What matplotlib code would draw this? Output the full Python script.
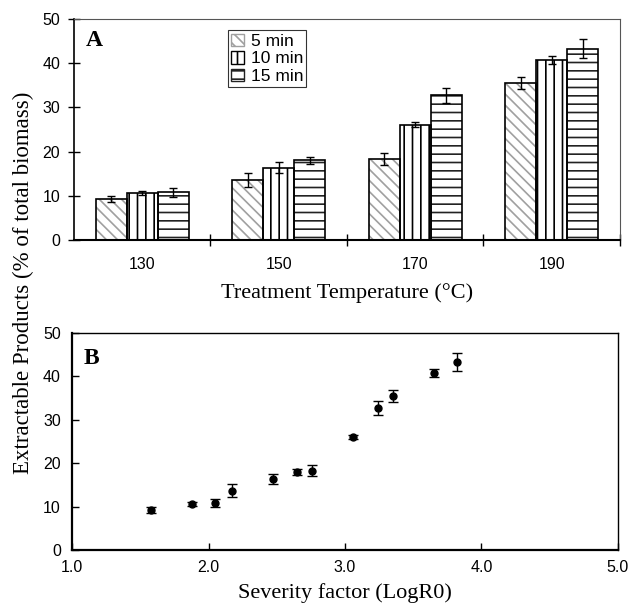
import numpy as np
import matplotlib
matplotlib.use("Agg")
import matplotlib.pyplot as plt

plt.rcParams['hatch.linewidth'] = 1.2

# panel A: extractable products per treatment temperature and time
temps = ["130", "150", "170", "190"]
times = ["5 min", "10 min", "15 min"]
vals = {
    "5 min": [9.2, 13.6, 18.3, 35.5],
    "10 min": [10.6, 16.4, 26.1, 40.8],
    "15 min": [10.8, 18.0, 32.7, 43.3],
}
errs = {
    "5 min": [0.7, 1.5, 1.3, 1.4],
    "10 min": [0.5, 1.2, 0.5, 0.9],
    "15 min": [1.0, 0.75, 1.6, 2.1],
}

# panel B: same data vs severity factor
severity = [1.58, 1.88, 2.05, 2.17, 2.47, 2.65, 2.76, 3.06, 3.24, 3.35, 3.65, 3.82]
products = [9.2, 10.6, 10.8, 13.6, 16.4, 18.0, 18.3, 26.1, 32.7, 35.5, 40.8, 43.3]
prod_err = [0.7, 0.5, 1.0, 1.5, 1.2, 0.75, 1.3, 0.5, 1.6, 1.4, 0.9, 2.1]

tick_font = "Liberation Sans"
serif = "Liberation Serif"

fig = plt.figure(figsize=(6.29, 6.06), dpi=100)
axA = fig.add_axes([0.1176, 0.604, 0.868, 0.3646])
axB = fig.add_axes([0.1145, 0.0924, 0.868, 0.3581])

# ---- panel A ----
x = np.arange(len(temps))
w = 0.227
hatches = {"5 min": "\\\\\\", "10 min": "||", "15 min": "--"}
hcolors = {"5 min": "#a0a0a0", "10 min": "black", "15 min": "#222222"}
handles = []
for i, t in enumerate(times):
    pos = x + (i - 1) * w
    axA.bar(pos, vals[t], w, color="white", edgecolor=hcolors[t],
            hatch=hatches[t], linewidth=0, zorder=2)
    axA.bar(pos, vals[t], w, fill=False, edgecolor="black", linewidth=1.2, zorder=3)
    axA.errorbar(pos, vals[t], yerr=errs[t], fmt="none", ecolor="black",
                 elinewidth=1, capsize=3, capthick=1, zorder=4)
    h = plt.Rectangle((0, 0), 1, 1, facecolor="white", edgecolor=hcolors[t],
                      hatch=hatches[t], linewidth=1)
    handles.append(h)

axA.set_xlim(-0.5, 3.5)
axA.set_ylim(0, 50)
axA.set_yticks(range(0, 51, 10))
axA.set_xticks([0.5, 1.5, 2.5, 3.5])
axA.set_xticklabels([])
axA.set_xticks(x, minor=True)
axA.set_xticklabels(temps, minor=True, fontsize=11.5, family=tick_font)
axA.tick_params(axis="x", which="major", direction="inout", length=9, width=1)
axA.tick_params(axis="x", which="minor", length=0, pad=12)
axA.tick_params(axis="y", direction="inout", length=8, width=1, pad=6)
for lab in axA.get_yticklabels():
    lab.set_fontsize(11.5)
    lab.set_family(tick_font)
axA.spines["left"].set_linewidth(1.2)
axA.spines["bottom"].set_linewidth(1.5)
axA.spines["top"].set_color("#555555")
axA.spines["right"].set_color("#555555")
axA.spines["top"].set_linewidth(0.8)
axA.spines["right"].set_linewidth(0.8)
axA.set_xlabel("Treatment Temperature (°C)", family=serif, fontsize=16, labelpad=8)
axA.text(0.022, 0.95, "A", transform=axA.transAxes, family=serif,
         fontsize=17, fontweight="bold", va="top", ha="left")
leg = axA.legend(handles, times, loc="upper left", bbox_to_anchor=(0.282, 0.95),
                 borderaxespad=0, frameon=True, fancybox=False, handlelength=0.75,
                 handleheight=0.75, handletextpad=0.35, labelspacing=0.12,
                 borderpad=0.2, prop={"family": tick_font, "size": 12.5})
leg.get_frame().set_edgecolor("black")
leg.get_frame().set_linewidth(0.8)

# ---- panel B ----
axB.errorbar(severity, products, yerr=prod_err, fmt="o", color="black",
             markersize=5, elinewidth=1, capsize=3.5, capthick=1)
axB.set_xlim(1.0, 5.0)
axB.set_ylim(0, 50)
axB.set_xticks([1.0, 2.0, 3.0, 4.0, 5.0])
axB.set_xticklabels(["1.0", "2.0", "3.0", "4.0", "5.0"])
axB.set_yticks(range(0, 51, 10))
axB.tick_params(direction="in", length=5, width=1)
axB.tick_params(axis="x", pad=7)
axB.tick_params(axis="y", pad=8)
for lab in axB.get_xticklabels() + axB.get_yticklabels():
    lab.set_fontsize(11.5)
    lab.set_family(tick_font)
for s in ["left", "bottom"]:
    axB.spines[s].set_linewidth(1.6)
for s in ["top", "right"]:
    axB.spines[s].set_linewidth(1.0)
axB.set_xlabel("Severity factor (LogR0)", family=serif, fontsize=16, labelpad=6)
axB.text(0.022, 0.93, "B", transform=axB.transAxes, family=serif,
         fontsize=17, fontweight="bold", va="top", ha="left")

fig.text(0.038, 0.533, "Extractable Products (% of total biomass)", family=serif,
         fontsize=16.5, rotation=90, ha="center", va="center")

fig.savefig("out.png", dpi=100)
